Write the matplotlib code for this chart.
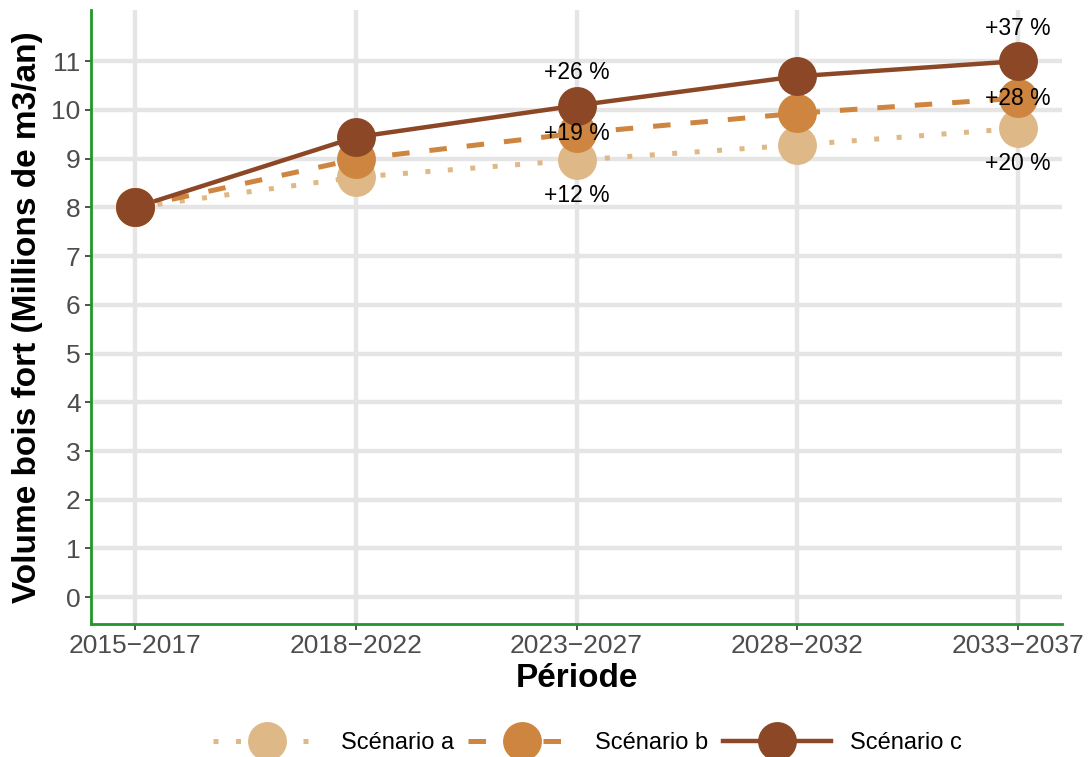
import matplotlib
matplotlib.use("Agg")
import matplotlib.pyplot as plt
from matplotlib.lines import Line2D

plt.rcParams['font.family'] = ['Liberation Sans', 'DejaVu Sans']

periods = ["2015\u22122017", "2018\u22122022", "2023\u22122027", "2028\u22122032", "2033\u22122037"]
scenario_names = ["Scénario a", "Scénario b", "Scénario c"]
vol_a = [8.0, 8.62, 8.97, 9.28, 9.62]
vol_b = [8.0, 8.99, 9.52, 9.93, 10.24]
vol_c = [8.0, 9.44, 10.09, 10.69, 11.0]
labels_a = {2: "+12 %", 4: "+20 %"}
labels_b = {2: "+19 %", 4: "+28 %"}
labels_c = {2: "+26 %", 4: "+37 %"}

colors = ["#DEB887", "#CD853F", "#8B4726"]
styles = [(0, (1, 3.5)), (0, (3.5, 4)), "-"]
lws = [3.6, 3.6, 3.2]
series = [vol_a, vol_b, vol_c]
label_sets = [labels_a, labels_b, labels_c]
offsets = [-0.72, 0.0, 0.68]

fig = plt.figure(figsize=(10.88, 7.57), dpi=100)
ax = fig.add_axes([91/1088, 1-624/757, (1062-91)/1088, (624-10)/757])

x = list(range(len(periods)))
for vals, col, ls, lw in zip(series, colors, styles, lws):
    ax.plot(x, vals, color=col, linestyle=ls, linewidth=lw, dash_capstyle='butt', zorder=3)
for vals, col in zip(series, colors):
    ax.plot(x, vals, linestyle='none', marker='o', markersize=28, color=col,
            markeredgewidth=0, zorder=4)
for vals, labs, off in zip(series, label_sets, offsets):
    for i, t in labs.items():
        ax.text(i, vals[i] + off, t, ha='center', va='center', fontsize=16.5,
                color='black', zorder=6)

ax.set_xlim(-0.2, 4.2)
ax.set_ylim(-0.55, 12.05)
ax.set_xticks(x)
ax.set_xticklabels(periods)
ax.set_yticks(range(0, 12))
ax.tick_params(axis='both', labelsize=19, colors='#4D4D4D', length=4, width=1.2)
ax.tick_params(axis='both', labelcolor='#4D4D4D', color='#333333')
ax.grid(True, color='#E5E5E5', linewidth=3.2, zorder=0)
ax.set_axisbelow(True)
for s in ['top', 'right']:
    ax.spines[s].set_visible(False)
for s in ['left', 'bottom']:
    ax.spines[s].set_color('#22962A')
    ax.spines[s].set_linewidth(2)

ax.set_xlabel("Période", fontsize=24, fontweight='bold', labelpad=3)
ax.set_ylabel("Volume bois fort (Millions de m3/an)", fontsize=24, fontweight='bold', labelpad=6)

handles = [Line2D([0], [0], color=c, linestyle=ls, linewidth=lw, marker='o', markersize=28,
                  markeredgewidth=0, dash_capstyle='butt')
           for c, ls, lw in zip(colors, styles, lws)]
fig.legend(handles, scenario_names, loc='center', bbox_to_anchor=(0.54, 1-743/757),
           ncol=3, frameon=False, fontsize=17, handlelength=4.6, columnspacing=0.6,
           handletextpad=0.8)

fig.savefig("out.png", dpi=100)
